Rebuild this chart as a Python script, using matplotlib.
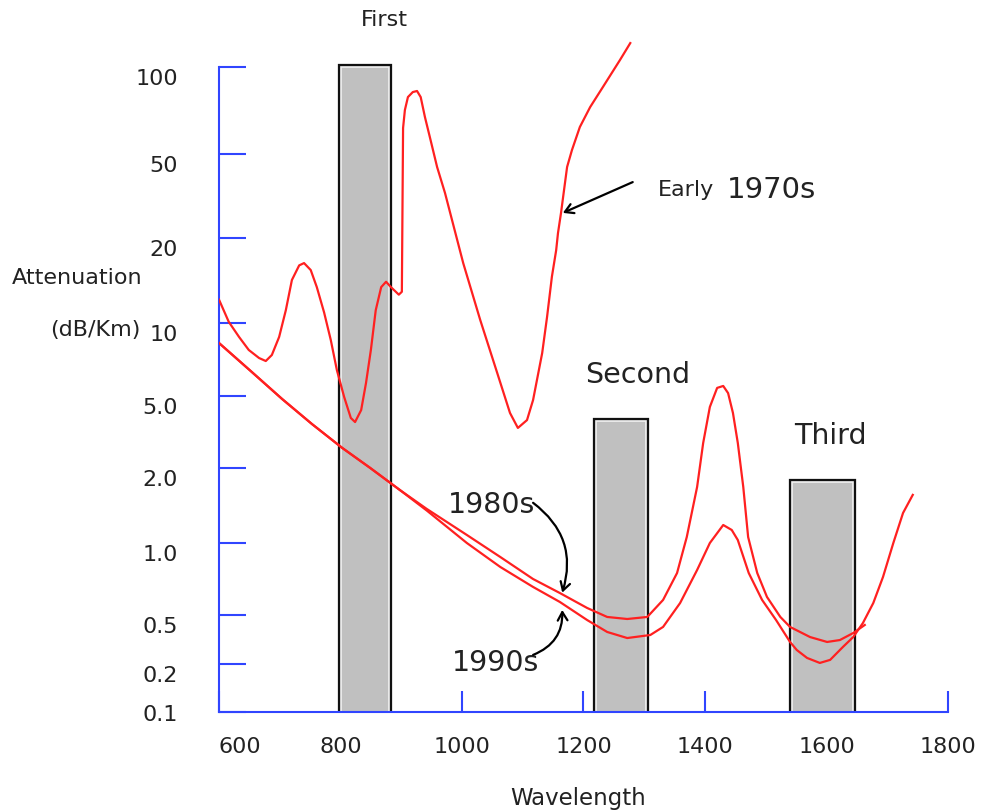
import numpy as np
import matplotlib
matplotlib.use('Agg')
import matplotlib.pyplot as plt
from matplotlib import patheffects as pe
from matplotlib.transforms import ScaledTranslation

# early 1970s fibre (wavelength nm, attenuation dB/km)
wl_1970 = [600, 616, 633, 649, 666, 677, 687, 699, 710, 720, 732, 740, 751, 761, 773,
           784, 794, 806, 817, 824, 834, 842, 850, 858, 867, 875, 883, 896, 901, 903,
           906, 911, 919, 926, 932, 939, 947, 959, 972, 1002, 1030, 1058, 1079, 1092,
           1107, 1117, 1132, 1140, 1148, 1155, 1158, 1163, 1168, 1173, 1181, 1194, 1211,
           1232, 1260, 1277]
att_1970 = [12.1, 10.1, 8.76, 7.74, 7.17, 6.97, 7.38, 8.76, 11.1, 14.2, 16.0, 16.3, 15.4, 13.4, 10.9,
            8.51, 6.40, 4.94, 3.78, 3.59, 4.18, 5.66, 7.74, 11.1, 13.4, 14.0, 13.4, 12.6, 12.9, 61.5,
            71.0, 78.7, 81.9, 82.6, 78.7, 67.1, 57.3, 43.4, 32.7, 16.3, 10.25, 6.22, 4.03, 3.33,
            3.68, 4.75, 7.52, 10.5, 14.6, 18.1, 21.1, 26.3, 33.8, 43.4, 51.6, 62.0, 72.7,
            85.3, 105.7, 121]

# 1980s fibre
wl_1980 = [600, 654, 704, 753, 803, 849, 898, 942, 1008, 1063, 1117, 1161, 1206, 1239, 1272,
           1305, 1331, 1354, 1370, 1387, 1397, 1408, 1420, 1430, 1438, 1446, 1454, 1463, 1471,
           1486, 1502, 1524, 1540, 1573, 1601, 1622, 1644, 1663]
att_1980 = [8.27, 6.28, 4.81, 3.50, 2.58, 2.0, 1.63, 1.37, 1.077, 0.874, 0.707, 0.618, 0.535, 0.482, 0.464,
            0.482, 0.578, 0.749, 1.057, 1.678, 2.75, 4.35, 5.40, 5.50, 5.14, 4.03, 2.75, 1.678, 1.057,
            0.749, 0.595, 0.482, 0.400, 0.331, 0.302, 0.313, 0.357, 0.415]

# 1990s fibre
wl_1990 = [600, 654, 704, 753, 803, 849, 898, 942, 1008, 1063, 1117, 1161, 1206, 1239, 1272,
           1310, 1331, 1359, 1387, 1408, 1430, 1444, 1454, 1472, 1494, 1517, 1540, 1551, 1568,
           1589, 1606, 1627, 1644, 1660, 1677, 1693, 1710, 1726, 1742]
att_1990 = [8.27, 6.28, 4.81, 3.50, 2.58, 2.0, 1.63, 1.35, 1.0, 0.794, 0.655, 0.567, 0.455, 0.364, 0.325,
            0.344, 0.400, 0.561, 0.771, 1.0, 1.181, 1.128, 1.028, 0.749, 0.578, 0.455, 0.302, 0.26, 0.224,
            0.204, 0.216, 0.275, 0.331, 0.431, 0.561, 0.721, 1.0, 1.32, 1.56]

# transmission windows
win_names = ['First', 'Second', 'Third']
win_left = [800, 1220, 1543]
win_right = [880, 1303, 1644]
win_top = [100, 3.64, 1.76]

y_ticks = [0.1, 0.2, 0.5, 1, 2, 5, 10, 20, 50, 100]
y_ticklabels = ['0.1', '0.2', '0.5', '1.0', '2.0', '5.0', '10', '20', '50', '100']
x_ticks = [600, 800, 1000, 1200, 1400, 1600, 1800]

# the hand drawn axis is not a true log scale: position of each tick (px)
tick_pos = [0, 48, 97, 169, 244, 316, 389, 474, 558, 645]
lg_nodes = np.concatenate([[-3], np.log10(y_ticks), [4]])
pos_nodes = np.concatenate([[-2 * 48 / np.log10(2)], tick_pos, [645 + 2 * 87 / np.log10(2)]])


def fwd(v):
    v = np.clip(np.asarray(v, dtype=float), 1e-3, 1e4)
    return np.interp(np.log10(v), lg_nodes, pos_nodes)


def inv(p):
    return 10 ** np.interp(p, pos_nodes, lg_nodes)


blue = '#3045ff'
txt = '#222222'
plt.rcParams['font.family'] = 'DejaVu Sans'

fig = plt.figure(figsize=(9.87, 8.11), dpi=100)
ax = fig.add_axes([219 / 987, 99 / 811, 729 / 987, 682 / 811])
ax.set_yscale('function', functions=(fwd, inv))
ax.set_xlim(600, 1800)
ax.set_ylim(0.1, inv(682))

# windows
widths = np.array(win_right) - np.array(win_left)
heights = np.array(win_top) - 0.1
bars = ax.bar(win_left, heights, widths, bottom=0.1, align='edge', color='#c0c0c0',
              edgecolor='#f2f2f2', linewidth=1.2, zorder=2)
for b in bars:
    b.set_path_effects([pe.Stroke(linewidth=4.5, foreground='#111111'), pe.Normal()])

ax.plot(wl_1970, att_1970, color='#ff2020', lw=1.6, zorder=4)
ax.plot(wl_1980, att_1980, color='#ff2020', lw=1.6, zorder=4)
ax.plot(wl_1990, att_1990, color='#ff2020', lw=1.6, zorder=4)

# axes styling
for s in ['top', 'right']:
    ax.spines[s].set_visible(False)
ax.spines['left'].set_bounds(0.1, 100)
ax.spines['bottom'].set_bounds(600, 1800)
for s in ['left', 'bottom']:
    ax.spines[s].set_color(blue)
    ax.spines[s].set_linewidth(1.5)
ax.set_yticks(y_ticks)
ax.set_xticks(x_ticks)
ax.set_xticklabels([str(x) for x in x_ticks])
ax.tick_params(axis='y', direction='in', length=19.5, width=1.5, color=blue, labelleft=False)
ax.tick_params(axis='x', direction='in', length=15, width=1.5, color=blue,
               labelsize=16, labelcolor=txt, pad=18)
ax.get_xticklabels()[0].set_ha('left')

# y tick labels sit a little below their ticks
for v, lab in zip(y_ticks, y_ticklabels):
    dy = -0.03 if v == 0.1 else -0.12
    tr = ax.get_yaxis_transform() + ScaledTranslation(0, dy, fig.dpi_scale_trans)
    ax.text(-0.056, v, lab, transform=tr, ha='right', va='center', fontsize=16, color=txt)

fig.text(12 / 987, 1 - 278 / 811, 'Attenuation', ha='left', va='center', fontsize=16, color=txt)
fig.text(140 / 987, 1 - 330 / 811, '(dB/Km)', ha='right', va='center', fontsize=16, color=txt)
fig.text(578 / 987, 1 - 798 / 811, 'Wavelength', ha='center', va='center', fontsize=16.5, color=txt)

# window names
ax.text(873, 145, win_names[0], ha='center', va='center', fontsize=16, color=txt)
ax.text(1290, 6.1, win_names[1], ha='center', va='center', fontsize=20.5, color=txt)
ax.text(1607, 3.0, win_names[2], ha='center', va='center', fontsize=20.5, color=txt)

# curve labels and arrows
ax.text(1322, 33.8, 'Early', ha='left', va='center', fontsize=16, color=txt)
ax.text(1436, 33.8, '1970s', ha='left', va='center', fontsize=21, color=txt)
ax.text(1048, 1.42, '1980s', ha='center', va='center', fontsize=20.5, color=txt)
ax.text(1056, 0.204, '1990s', ha='center', va='center', fontsize=20.5, color=txt)

arr = dict(arrowstyle='->,head_length=0.6,head_width=0.35', color='black', lw=1.6)
ax.annotate('', xy=(1166, 26.3), xytext=(1281, 36.8),
            arrowprops=dict(arr, shrinkA=0, shrinkB=0))
ax.annotate('', xy=(1165, 0.62), xytext=(1117, 1.45),
            arrowprops=dict(arr, shrinkA=0, shrinkB=0, connectionstyle='arc3,rad=-0.35'))
ax.annotate('', xy=(1165, 0.525), xytext=(1117, 0.237),
            arrowprops=dict(arr, shrinkA=0, shrinkB=0, connectionstyle='arc3,rad=0.35'))

fig.savefig('out.png', dpi=100)
